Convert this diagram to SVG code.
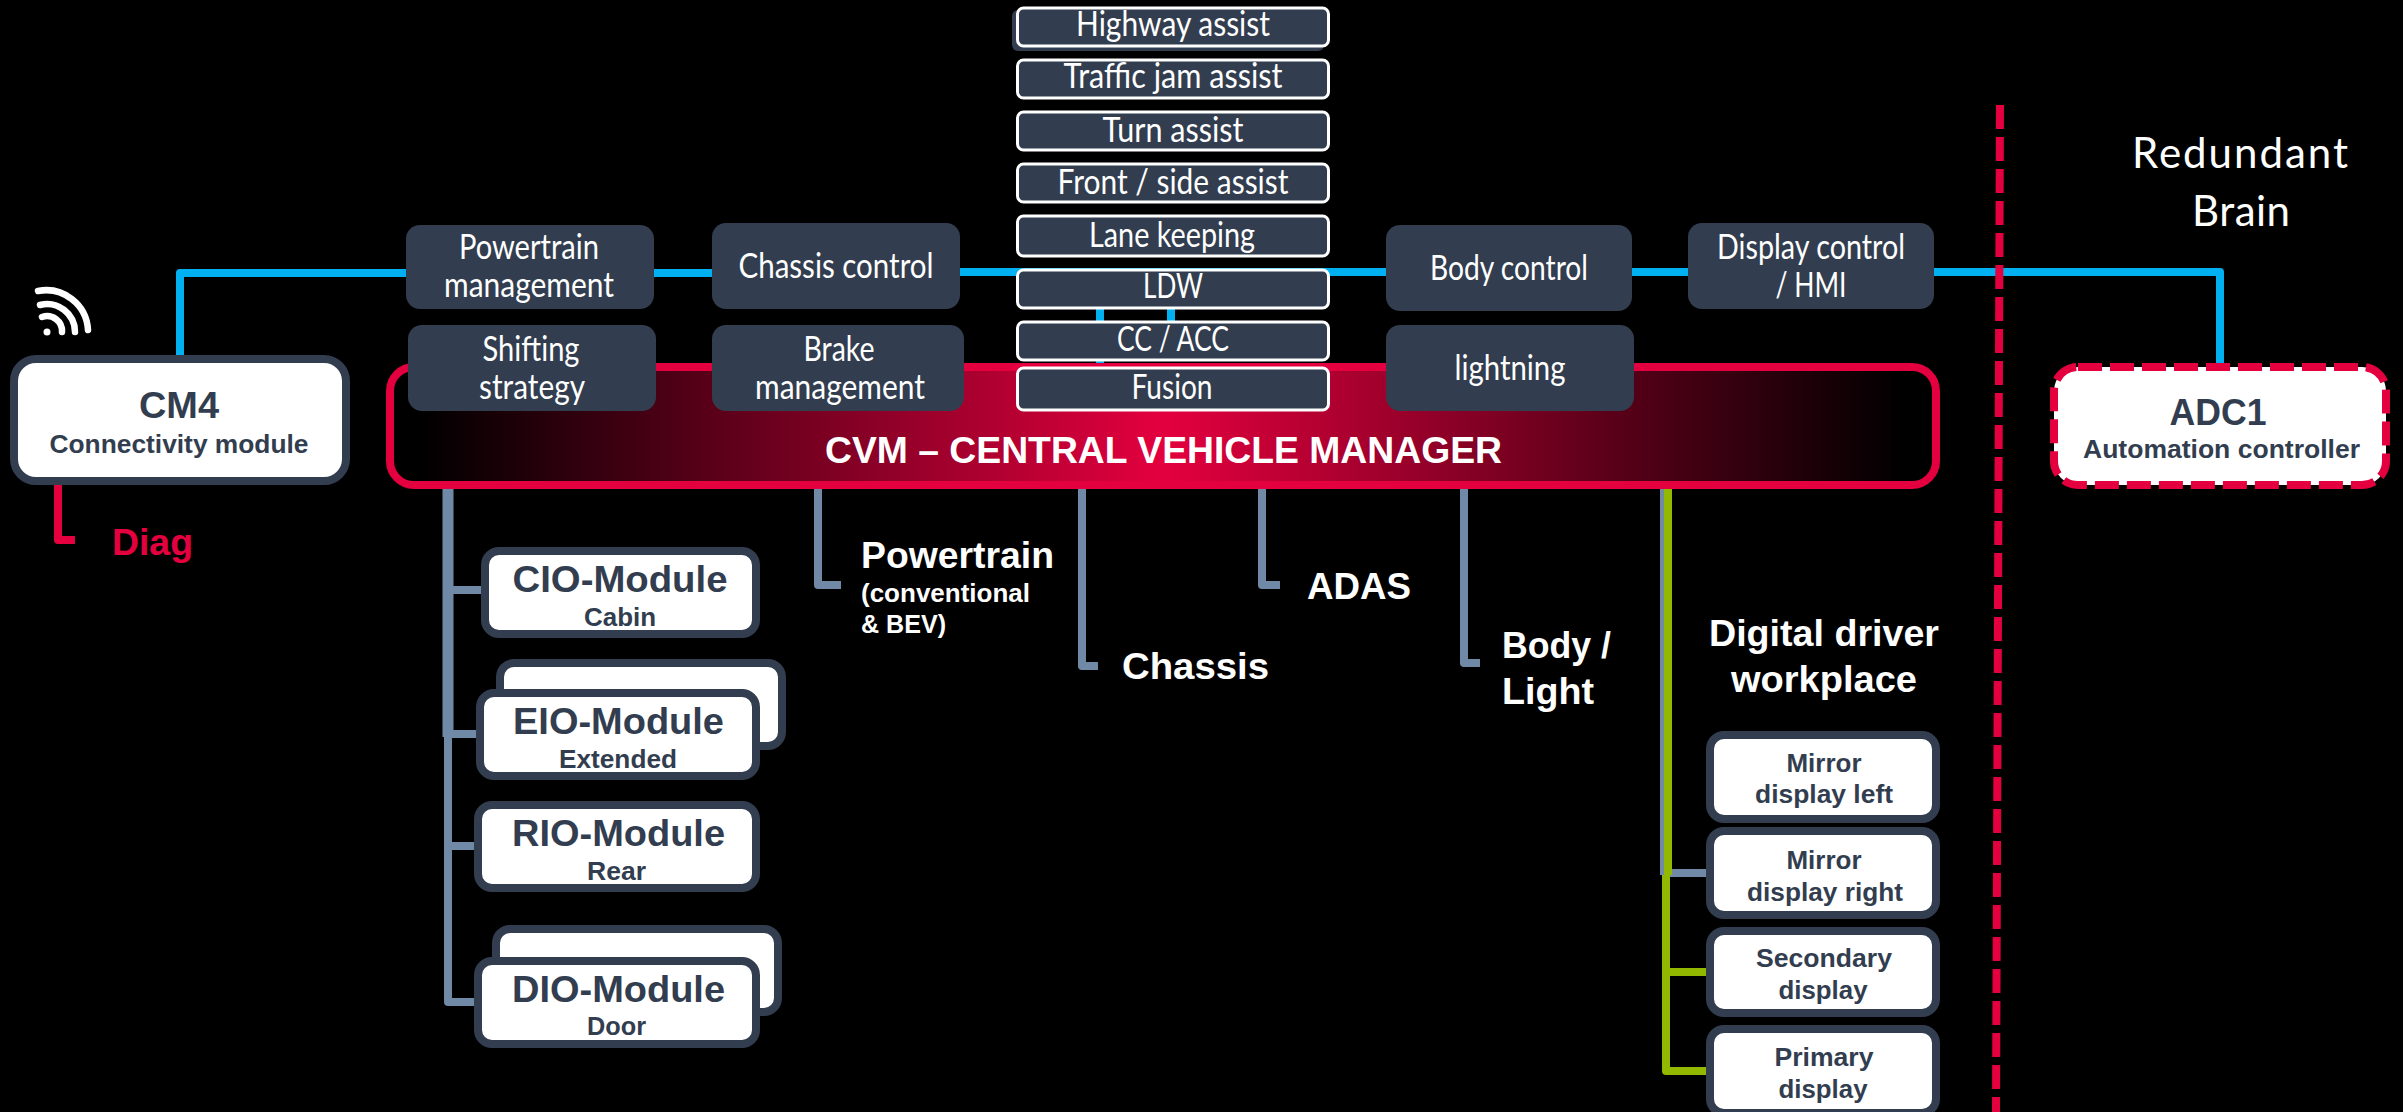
<svg xmlns="http://www.w3.org/2000/svg" width="2403" height="1112" viewBox="0 0 2403 1112">
<style>
.bg{fill:#000}
.dark{fill:#323E4F}
.stk{fill:#323E4F;stroke:#fff;stroke-width:3}
.mod{fill:#fff;stroke:#323E4F;stroke-width:8}
.l{fill:none;stroke-width:8;stroke-linejoin:round}
.blue{stroke:#00B0F0}
.grey{stroke:#7089A6}
.green{stroke:#92B900}
.red{stroke:#E4003F}
.c{font-family:Lato,"Open Sans",sans-serif;fill:#fff;font-size:34px;text-anchor:middle}
.b{font-family:"Liberation Sans",Arial,sans-serif;font-weight:700;font-size:37px;fill:#fff}
.d{fill:#323E4F;text-anchor:middle}
.s{font-size:26px}
</style>
<defs>
<linearGradient id="cvmg" x1="0" y1="0" x2="1" y2="0">
<stop offset="0.02" stop-color="#000"/>
<stop offset="0.5" stop-color="#E4003F"/>
<stop offset="0.98" stop-color="#000"/>
</linearGradient>
</defs>
<rect class="bg" width="2403" height="1112"/>
<g id="connectors-back">
<path class="l red" d="M58 485V540H75"/>
<path class="l grey" d="M448 485V737" stroke-width="10" style="stroke-width:11"/>
<path class="l grey" d="M448 737V1002H479M448 590H481M448 734H481M448 846H479"/>
<path class="l grey" d="M818 489V585H841M1082 489V666H1098M1262 489V585H1280M1464 489V663H1480"/>
<path class="l grey" d="M1664 489V875"/>
<path class="l grey" d="M1668 873H1711"/>
<path class="l green" d="M1668 489V875M1666 875V1071H1711M1666 972H1710"/>
<path class="l blue" d="M180 355V273H406M654 273H712M960 272H1386M1632 272H1688M1934 272H2220V363"/>
<path class="l blue" d="M1100 272V363M1171 305V325"/>
</g>
<g id="wifi" fill="none" stroke="#fff" stroke-linecap="round" stroke-width="6.5">
<circle cx="47" cy="332" r="3.5" fill="#fff" stroke="none"/>
<path d="M42 317A15 15 0 0 1 62 332"/>
<path d="M40 305A28 28 0 0 1 75 332"/>
<path d="M38 291A42 42 0 0 1 88 330"/>
</g>
<g id="cm4">
<rect class="mod" x="14" y="359" width="332" height="122" rx="22"/>
<text class="b d" x="179" y="418" textLength="80" lengthAdjust="spacingAndGlyphs">CM4</text>
<text class="b d s" x="179" y="453" textLength="259" lengthAdjust="spacingAndGlyphs">Connectivity module</text>
</g>
<text id="diag" class="b" x="112" y="555" style="fill:#E4003F" textLength="81" lengthAdjust="spacingAndGlyphs">Diag</text>
<g id="cvm">
<rect x="390" y="367" width="1546" height="118" rx="24" fill="url(#cvmg)" stroke="#E4003F" stroke-width="8"/>
<text class="b" x="825" y="463" textLength="677" lengthAdjust="spacingAndGlyphs">CVM – CENTRAL VEHICLE MANAGER</text>
</g>
<g id="powertrain-management"><rect class="dark" x="406" y="225" width="248" height="84" rx="14"/>
<text class="c" x="529" y="259" textLength="140" lengthAdjust="spacingAndGlyphs">Powertrain</text>
<text class="c" x="529" y="297" textLength="170" lengthAdjust="spacingAndGlyphs">management</text></g>
<g id="chassis-control"><rect class="dark" x="712" y="223" width="248" height="86" rx="14"/>
<text class="c" x="836" y="278" textLength="195" lengthAdjust="spacingAndGlyphs">Chassis control</text></g>
<g id="shifting-strategy"><rect class="dark" x="408" y="325" width="248" height="86" rx="14"/>
<text class="c" x="531" y="361" textLength="97" lengthAdjust="spacingAndGlyphs">Shifting</text>
<text class="c" x="532" y="399" textLength="106" lengthAdjust="spacingAndGlyphs">strategy</text></g>
<g id="brake-management"><rect class="dark" x="712" y="325" width="252" height="86" rx="14"/>
<text class="c" x="839" y="361" textLength="71" lengthAdjust="spacingAndGlyphs">Brake</text>
<text class="c" x="840" y="399" textLength="170" lengthAdjust="spacingAndGlyphs">management</text></g>
<g id="body-control"><rect class="dark" x="1386" y="225" width="246" height="86" rx="14"/>
<text class="c" x="1509" y="280" textLength="158" lengthAdjust="spacingAndGlyphs">Body control</text></g>
<g id="display-control"><rect class="dark" x="1688" y="223" width="246" height="86" rx="14"/>
<text class="c" x="1811" y="259" textLength="188" lengthAdjust="spacingAndGlyphs">Display control</text>
<text class="c" x="1811" y="297" textLength="71" lengthAdjust="spacingAndGlyphs">/ HMI</text></g>
<g id="lightning"><rect class="dark" x="1386" y="325" width="248" height="86" rx="14"/>
<text class="c" x="1510" y="380" textLength="111" lengthAdjust="spacingAndGlyphs">lightning</text></g>
<g id="highway-assist"><rect class="dark" x="1012" y="10" width="312" height="41" rx="6"/><rect class="stk" x="1017.5" y="8" width="311" height="38" rx="6"/>
<text class="c" x="1173" y="36" textLength="194" lengthAdjust="spacingAndGlyphs">Highway assist</text></g>
<g id="traffic-jam-assist"><rect class="stk" x="1017.5" y="60" width="311" height="38" rx="6"/>
<text class="c" x="1173" y="88" textLength="219" lengthAdjust="spacingAndGlyphs">Traffic jam assist</text></g>
<g id="turn-assist"><rect class="stk" x="1017.5" y="112" width="311" height="38" rx="6"/>
<text class="c" x="1173" y="142" textLength="141" lengthAdjust="spacingAndGlyphs">Turn assist</text></g>
<g id="front-side-assist"><rect class="stk" x="1017.5" y="164" width="311" height="38" rx="6"/>
<text class="c" x="1173" y="194" textLength="231" lengthAdjust="spacingAndGlyphs">Front / side assist</text></g>
<g id="lane-keeping"><rect class="stk" x="1017.5" y="216" width="311" height="40" rx="6"/>
<text class="c" x="1172" y="247" textLength="166" lengthAdjust="spacingAndGlyphs">Lane keeping</text></g>
<g id="ldw"><rect class="stk" x="1017.5" y="270" width="311" height="38" rx="6"/>
<text class="c" x="1173" y="298" textLength="60" lengthAdjust="spacingAndGlyphs">LDW</text></g>
<g id="cc-acc"><rect class="stk" x="1017.5" y="322" width="311" height="38" rx="6"/>
<text class="c" x="1173" y="351" textLength="112" lengthAdjust="spacingAndGlyphs">CC / ACC</text></g>
<g id="fusion"><rect class="stk" x="1017.5" y="368" width="311" height="42" rx="6"/>
<text class="c" x="1172" y="399" textLength="81" lengthAdjust="spacingAndGlyphs">Fusion</text></g>
<g id="cio-module"><rect class="mod" x="485" y="551" width="271" height="83" rx="14"/>
<text class="b d" x="620" y="592" textLength="215" lengthAdjust="spacingAndGlyphs">CIO-Module</text>
<text class="b d s" x="620" y="626" textLength="72" lengthAdjust="spacingAndGlyphs">Cabin</text></g>
<g id="eio-module"><rect class="mod" x="500" y="663" width="282" height="83" rx="14"/><rect class="mod" x="480" y="693" width="276" height="83" rx="14"/>
<text class="b d" x="618.5" y="734" textLength="211" lengthAdjust="spacingAndGlyphs">EIO-Module</text>
<text class="b d s" x="618" y="768" textLength="118" lengthAdjust="spacingAndGlyphs">Extended</text></g>
<g id="rio-module"><rect class="mod" x="478" y="805" width="278" height="83" rx="14"/>
<text class="b d" x="618.5" y="846" textLength="213" lengthAdjust="spacingAndGlyphs">RIO-Module</text>
<text class="b d s" x="616.5" y="880" textLength="59" lengthAdjust="spacingAndGlyphs">Rear</text></g>
<g id="dio-module"><rect class="mod" x="496" y="929" width="282" height="83" rx="14"/><rect class="mod" x="478" y="961" width="278" height="83" rx="14"/>
<text class="b d" x="618.5" y="1002" textLength="213" lengthAdjust="spacingAndGlyphs">DIO-Module</text>
<text class="b d s" x="616.5" y="1035" textLength="59" lengthAdjust="spacingAndGlyphs">Door</text></g>
<g id="labels">
<text class="b" x="861" y="568" textLength="193" lengthAdjust="spacingAndGlyphs">Powertrain</text>
<text class="b s" x="861" y="602" textLength="169" lengthAdjust="spacingAndGlyphs">(conventional</text>
<text class="b s" x="861" y="633" textLength="85" lengthAdjust="spacingAndGlyphs">&amp; BEV)</text>
<text class="b" x="1122" y="679" textLength="147" lengthAdjust="spacingAndGlyphs">Chassis</text>
<text class="b" x="1307" y="599" textLength="104" lengthAdjust="spacingAndGlyphs">ADAS</text>
<text class="b" x="1502" y="658" textLength="109" lengthAdjust="spacingAndGlyphs">Body /</text>
<text class="b" x="1502" y="704" textLength="92" lengthAdjust="spacingAndGlyphs">Light</text>
<text class="b" x="1709" y="646" textLength="230" lengthAdjust="spacingAndGlyphs">Digital driver</text>
<text class="b" x="1731" y="692" textLength="186" lengthAdjust="spacingAndGlyphs">workplace</text>
</g>
<g id="mirror-display-left"><rect class="mod" x="1710" y="735" width="226" height="84" rx="14"/>
<text class="b d s" x="1824" y="772" textLength="75" lengthAdjust="spacingAndGlyphs">Mirror</text>
<text class="b d s" x="1824" y="803" textLength="138" lengthAdjust="spacingAndGlyphs">display left</text></g>
<g id="mirror-display-right"><rect class="mod" x="1710" y="831" width="226" height="84" rx="14"/>
<text class="b d s" x="1824" y="869" textLength="75" lengthAdjust="spacingAndGlyphs">Mirror</text>
<text class="b d s" x="1825" y="901" textLength="156" lengthAdjust="spacingAndGlyphs">display right</text></g>
<g id="secondary-display"><rect class="mod" x="1710" y="931" width="226" height="82" rx="14"/>
<text class="b d s" x="1824" y="967" textLength="136" lengthAdjust="spacingAndGlyphs">Secondary</text>
<text class="b d s" x="1823" y="999" textLength="89" lengthAdjust="spacingAndGlyphs">display</text></g>
<g id="primary-display"><rect class="mod" x="1710" y="1029" width="226" height="84" rx="14"/>
<text class="b d s" x="1824" y="1066" textLength="99" lengthAdjust="spacingAndGlyphs">Primary</text>
<text class="b d s" x="1823" y="1098" textLength="89" lengthAdjust="spacingAndGlyphs">display</text></g>
<g id="adc1">
<rect x="2054" y="367" width="332" height="118" rx="24" fill="#fff" stroke="#E4003F" stroke-width="8" stroke-dasharray="24 8"/>
<text class="b d" x="2218" y="425" textLength="97" lengthAdjust="spacingAndGlyphs">ADC1</text>
<text class="b d s" x="2221.5" y="458" textLength="277" lengthAdjust="spacingAndGlyphs">Automation controller</text>
</g>
<g id="redundant-brain">
<text class="c" x="2240" y="168" style="font-size:42px" textLength="216">Redundant</text>
<text class="c" x="2241" y="226" style="font-size:42px" textLength="98">Brain</text>
</g>
<path id="divider" class="l red" d="M2000 105L1996 1112" stroke-dasharray="24 8"/>
</svg>
